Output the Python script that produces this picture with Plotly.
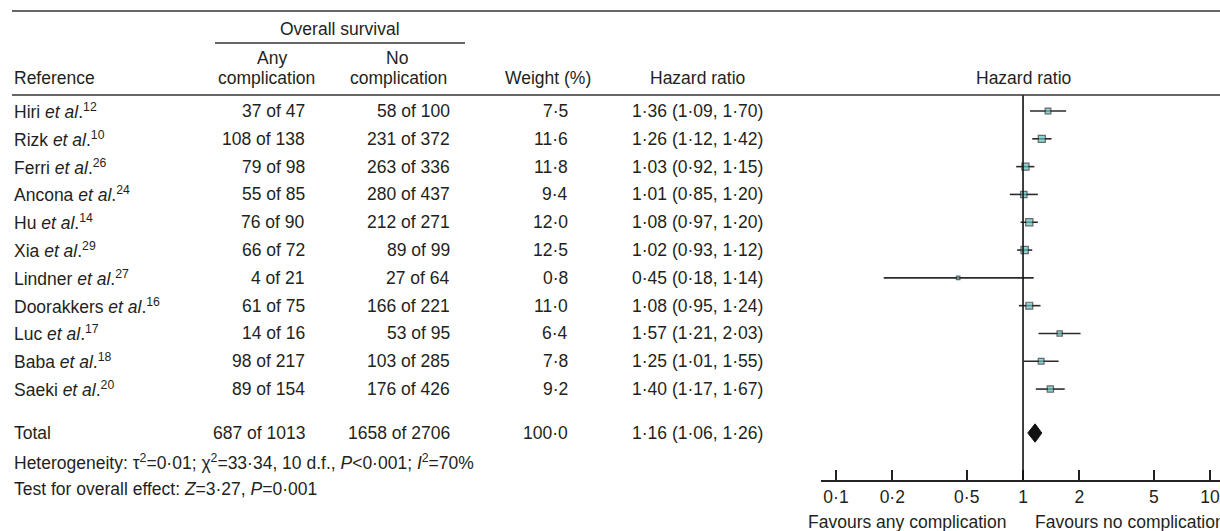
import plotly.graph_objects as go

# ---------------- data ----------------
studies = ["Hiri", "Rizk", "Ferri", "Ancona", "Hu", "Xia", "Lindner",
           "Doorakkers", "Luc", "Baba", "Saeki"]
refs = ["12", "10", "26", "24", "14", "29", "27", "16", "17", "18", "20"]
any_comp = ["37 of 47", "108 of 138", "79 of 98", "55 of 85", "76 of 90", "66 of 72",
            "4 of 21", "61 of 75", "14 of 16", "98 of 217", "89 of 154"]
no_comp = ["58 of 100", "231 of 372", "263 of 336", "280 of 437", "212 of 271", "89 of 99",
           "27 of 64", "166 of 221", "53 of 95", "103 of 285", "176 of 426"]
weights = [7.5, 11.6, 11.8, 9.4, 12.0, 12.5, 0.8, 11.0, 6.4, 7.8, 9.2]
hr = [1.36, 1.26, 1.03, 1.01, 1.08, 1.02, 0.45, 1.08, 1.57, 1.25, 1.40]
lo = [1.09, 1.12, 0.92, 0.85, 0.97, 0.93, 0.18, 0.95, 1.21, 1.01, 1.17]
hi = [1.70, 1.42, 1.15, 1.20, 1.20, 1.12, 1.14, 1.24, 2.03, 1.55, 1.67]

total_any = "687 of 1013"
total_no = "1658 of 2706"
total_weight = 100.0
total_hr, total_lo, total_hi = 1.16, 1.06, 1.26

tick_vals = [0.1, 0.2, 0.5, 1, 2, 5, 10]
tick_text = ["0·1", "0·2", "0·5", "1", "2", "5", "10"]

heterogeneity = ("Heterogeneity: τ<sup>2</sup>=0·01; χ<sup>2</sup>=33·34, 10 d.f., "
                 "<i>P</i>&lt;0·001; <i>I</i><sup>2</sup>=70%")
overall = "Test for overall effect: <i>Z</i>=3·27, <i>P</i>=0·001"

# ---------------- layout helpers ----------------
W, H = 1220, 531
FONT = "Liberation Sans, Arial, Helvetica, sans-serif"
FS = 17.5
TXT = "#231f20"


def fmt(v):
    return f"{v:.2f}".replace(".", "·")


def fmt1(v):
    return f"{v:.1f}".replace(".", "·")


def px(x):
    return x / W


def py(y):
    return 1 - y / H


n = len(studies)
rows = list(range(n))
total_row = 11.58

fig = go.Figure()

# CI lines + squares
fig.add_trace(go.Scatter(
    x=hr, y=rows, mode="markers",
    marker=dict(symbol="square", size=[3.2 + 0.33 * w for w in weights],
                color="#5fc4bf", line=dict(color="#2b2b2b", width=1.2)),
    error_x=dict(type="data", symmetric=False,
                 array=[h - e for h, e in zip(hi, hr)],
                 arrayminus=[e - l for e, l in zip(hr, lo)],
                 width=0, thickness=1.6, color="#2b2b2b"),
    hoverinfo="skip", showlegend=False, cliponaxis=False))

# Total diamond
d = 0.33
fig.add_trace(go.Scatter(
    x=[total_lo, total_hr, total_hi, total_hr, total_lo],
    y=[total_row, total_row - d, total_row, total_row + d, total_row],
    mode="lines", fill="toself", fillcolor="#111111",
    line=dict(color="#111111", width=1), hoverinfo="skip", showlegend=False))

# no-effect line
fig.add_shape(type="line", xref="x", yref="y domain", x0=1, x1=1, y0=0, y1=1,
              line=dict(color="#111111", width=1.6))

# table rules
fig.add_shape(type="line", xref="paper", yref="paper", x0=px(12), x1=1, y0=py(11), y1=py(11),
              line=dict(color="#666666", width=2.2))
fig.add_shape(type="line", xref="paper", yref="paper", x0=px(215), x1=px(465), y0=py(43), y1=py(43),
              line=dict(color="#333333", width=1.5))
fig.add_shape(type="line", xref="paper", yref="paper", x0=px(12), x1=1, y0=py(95), y1=py(95),
              line=dict(color="#333333", width=1.5))

ann = []


def A(text, x, y, xanchor="left", yref="paper"):
    ann.append(dict(text=text, x=x, y=y, xref="paper", yref=yref, xanchor=xanchor,
                    yanchor="middle", showarrow=False,
                    font=dict(family=FONT, size=FS, color=TXT)))


# headers
A("Overall survival", px(340), py(29), "center")
A("Any", px(272), py(58), "center")
A("complication", px(266), py(78), "center")
A("No", px(397), py(58), "center")
A("complication", px(398), py(78), "center")
A("Reference", px(12), py(78), "left")
A("Weight (%)", px(548), py(78), "center")
A("Hazard ratio", px(697), py(78), "center")
A("Hazard ratio", px(1023), py(78), "center")

# study rows
for i in rows:
    A(f"{studies[i]} <i>et al</i>.<sup>{refs[i]}</sup>", px(12), i, "left", "y")
    A(any_comp[i], px(307), i, "right", "y")
    A(no_comp[i], px(452), i, "right", "y")
    A(fmt1(weights[i]), px(570), i, "right", "y")
    A(f"{fmt(hr[i])} ({fmt(lo[i])}, {fmt(hi[i])})", px(697), i, "center", "y")

# total row
A("Total", px(12), total_row, "left", "y")
A(total_any, px(307), total_row, "right", "y")
A(total_no, px(452), total_row, "right", "y")
A(fmt1(total_weight), px(570), total_row, "right", "y")
A(f"{fmt(total_hr)} ({fmt(total_lo)}, {fmt(total_hi)})", px(697), total_row, "center", "y")

# footer
A(heterogeneity, px(12), py(462), "left")
A(overall, px(12), py(489), "left")
A("Favours any complication", px(907), py(522), "center")
A("Favours no complication", px(1033), py(522), "left")

fig.update_layout(
    width=W, height=H, autosize=False,
    margin=dict(l=0, r=0, t=0, b=0),
    paper_bgcolor="white", plot_bgcolor="white",
    annotations=ann,
    font=dict(family=FONT, size=FS, color=TXT),
    xaxis=dict(type="log", range=[-1.080, 1.053], domain=[px(821), 1],
               tickvals=tick_vals, ticktext=tick_text,
               ticks="inside", ticklen=10, tickwidth=1.5, tickcolor="#222222",
               showline=True, linecolor="#222222", linewidth=1.5,
               showgrid=False, zeroline=False, ticklabeloverflow="allow",
               tickfont=dict(family=FONT, size=FS, color=TXT)),
    yaxis=dict(range=[13.27, -0.576], domain=[py(480), py(95)], visible=False,
               showgrid=False, zeroline=False),
)

fig.write_html(
    "out.html",
    config={"displayModeBar": False},
    post_script="document.body.style.margin='0';document.body.style.overflow='hidden';",
)
